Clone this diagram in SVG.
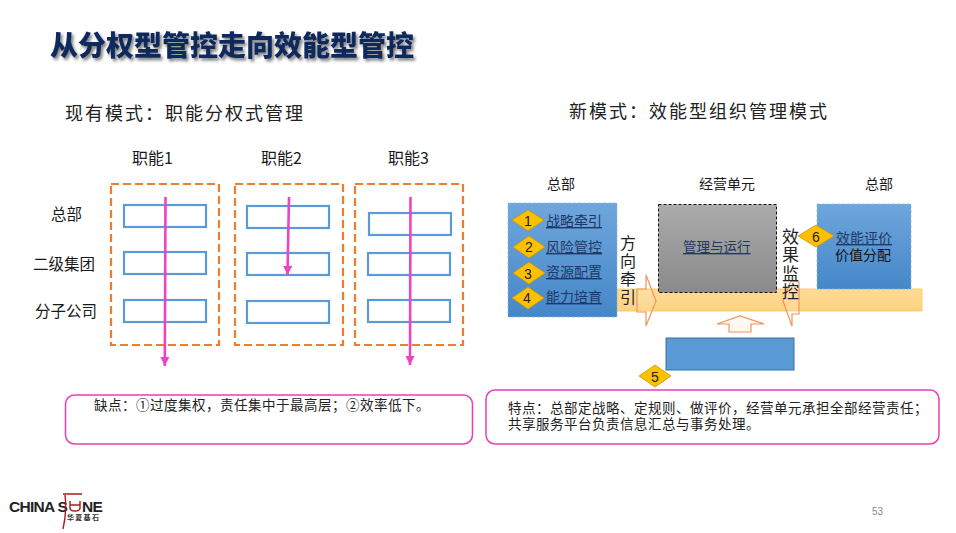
<svg xmlns="http://www.w3.org/2000/svg" width="956" height="533" viewBox="0 0 956 533">
<style>
text{font-family:"Noto Sans CJK SC","Liberation Sans",sans-serif;fill:#1a1a1a}
.head{font-size:18px;letter-spacing:2px;fill:#222}
.fn{font-size:16px}
.lv{font-size:15.500px}
.sm{font-size:14px}
.link{font-size:14px;fill:#1f3864;text-decoration:underline}
.vert{writing-mode:vertical-rl;fill:#222}
.num{font-size:14px;text-anchor:middle;fill:#222;font-family:"Liberation Sans",sans-serif}
.note{font-size:13.500px;letter-spacing:.5px;fill:#222}
.frame{fill:none;stroke:#ed7d31;stroke-width:2.2;stroke-dasharray:8 4}
.cell{fill:#fff;stroke:#5b9bd5;stroke-width:2.2}
.pk{fill:none;stroke:#ee44c4;stroke-width:2.6}
.dia{fill:#ffc000;stroke:#c89800;stroke-width:.8}
.call{fill:#fff;stroke:#e83fb5;stroke-width:1.5}
.hollow{fill:#fff6ec;fill-opacity:.15;stroke:#f4945a;stroke-width:1.2}
.ln{font-family:"Liberation Sans",sans-serif;font-size:15.500px;font-weight:700;fill:#222;letter-spacing:-.7px}
</style>
<defs>
<linearGradient id="bl" x1="0" y1="0" x2="0" y2="1"><stop offset="0" stop-color="#6fa6dc"/><stop offset="1" stop-color="#4587c9"/></linearGradient>
<linearGradient id="gr" x1="0" y1="0" x2="0" y2="1"><stop offset="0" stop-color="#ababab"/><stop offset="1" stop-color="#8a8a8a"/></linearGradient>
<linearGradient id="ye" x1="0" y1="0" x2="0" y2="1"><stop offset="0" stop-color="#ffdb9a"/><stop offset="1" stop-color="#ffd27f"/></linearGradient>
<marker id="ah" markerUnits="userSpaceOnUse" markerWidth="10" markerHeight="10" refX="9" refY="4.5" orient="auto"><path d="M0 0L9 4.5L0 9Z" fill="#ee44c4"/></marker>
<filter id="sh" x="-5%" y="-30%" width="110%" height="170%"><feDropShadow dx="2" dy="2.5" stdDeviation="1.6" flood-color="#555" flood-opacity=".75"/></filter>
</defs>

<g id="title"><text x="50" y="56" font-size="28" font-weight="900" style="fill:#10295f" filter="url(#sh)">从分权型管控走向效能型管控</text></g>

<g id="left-head">
<text class="head" x="65" y="120">现有模式：职能分权式管理</text>
<text class="fn" x="132" y="164">职能1</text>
<text class="fn" x="261" y="164">职能2</text>
<text class="fn" x="388" y="164">职能3</text>
<text class="lv" x="51" y="220">总部</text>
<text class="lv" x="33" y="270">二级集团</text>
<text class="lv" x="35" y="317">分子公司</text>
</g>

<g id="col1"><rect class="frame" x="111" y="184" width="108" height="161"/><rect class="cell" x="124" y="205" width="82" height="22"/><rect class="cell" x="124" y="252" width="82" height="22"/><rect class="cell" x="124" y="300" width="82" height="22"/></g>
<g id="col2"><rect class="frame" x="235" y="184" width="108" height="161"/><rect class="cell" x="247" y="206" width="82" height="22"/><rect class="cell" x="247" y="253" width="82" height="22"/><rect class="cell" x="247" y="301" width="82" height="22"/></g>
<g id="col3"><rect class="frame" x="355" y="184" width="108" height="161"/><rect class="cell" x="369" y="213" width="82" height="22"/><rect class="cell" x="368" y="253" width="82" height="22"/><rect class="cell" x="368" y="300" width="82" height="22"/></g>

<g id="connectors">
<path class="pk" d="M165.500 197L164.800 366" marker-end="url(#ah)"/>
<path class="pk" d="M289 197L287.500 275" marker-end="url(#ah)"/>
<path class="pk" d="M410.500 197L410 365" marker-end="url(#ah)"/>
</g>

<g id="right-head">
<text class="head" x="569" y="118">新模式：效能型组织管理模式</text>
<text class="sm" x="547" y="189">总部</text>
<text class="sm" x="699" y="189">经营单元</text>
<text class="sm" x="865" y="189">总部</text>
</g>

<g id="band"><rect x="617" y="289" width="305" height="22" fill="url(#ye)" stroke="#ffc64d" stroke-width=".8"/></g>

<g id="hq-left"><rect x="508" y="203" width="109" height="114" fill="url(#bl)" stroke="#8db8e2" stroke-dasharray="3 2" stroke-width=".7"/>
<path class="dia" d="M512 220L528 210L544 220L528 231Z"/><text class="num" x="528" y="226">1</text>
<text class="link" x="546" y="226">战略牵引</text>
<path class="dia" d="M513 247L529 236L545 247L529 258Z"/><text class="num" x="529" y="252">2</text>
<text class="link" x="546" y="252">风险管控</text>
<path class="dia" d="M513 273L529 262L545 273L529 284Z"/><text class="num" x="528" y="279">3</text>
<text class="link" x="546" y="277">资源配置</text>
<path class="dia" d="M512 298L528 287L544 298L528 309Z"/><text class="num" x="527" y="303">4</text>
<text class="link" x="546" y="302">能力培育</text>
</g>

<g id="dir-arrow"><path class="hollow" d="M637 289H646V275L656 301L646 326V312H637Z"/>
<text class="vert" x="628" y="235" font-size="16" letter-spacing="2">方向牵引</text></g>

<g id="ops"><rect x="658.500" y="204.500" width="118" height="88" fill="url(#gr)" stroke="#111" stroke-dasharray="3 2" stroke-width="1"/>
<text class="link" x="683" y="252" style="font-size:13.500px">管理与运行</text></g>

<g id="hq-right"><rect x="817" y="204" width="94" height="85" fill="url(#bl)" stroke="#8db8e2" stroke-dasharray="3 2" stroke-width=".7"/>
<path class="dia" d="M798 236L816 225L834 236L816 247Z"/><text class="num" x="816" y="242">6</text>
<text font-size="14" style="fill:#111"><tspan class="link" x="836" y="243">效能评价</tspan><tspan x="835" y="260">价值分配</tspan></text></g>

<g id="mon-arrow"><path class="hollow" d="M791 281L783 301L792 326V314H799V282Z"/>
<text class="vert" x="790.500" y="228" font-size="17" letter-spacing="1.500">效果监控</text></g>

<g id="up-arrow"><path class="hollow" style="fill-opacity:.8" d="M717 324L740 316L764 324H751V332H729V324Z"/></g>

<g id="shared"><rect x="666" y="338" width="128" height="32" fill="#5b9bd5" stroke="#41719c"/></g>
<g id="d5"><path class="dia" d="M639 376L655 365L671 376L655 387Z"/><text class="num" x="655" y="382">5</text></g>

<g id="note-left"><rect class="call" x="65.500" y="395" width="407" height="49" rx="9"/><text class="note" x="94" y="410">缺点：①过度集权，责任集中于最高层；②效率低下。</text></g>
<g id="note-right"><rect class="call" x="486" y="390" width="453" height="54" rx="9"/><text class="note"><tspan x="508" y="413">特点：总部定战略、定规则、做评价，经营单元承担全部经营责任；</tspan><tspan x="508" y="429">共享服务平台负责信息汇总与事务处理。</tspan></text></g>

<g id="logo">
<text class="ln" x="9" y="512">CHINA S</text>
<path d="M63 494H82M65 495Q67 512 63 529M70 501V508Q70 511 75 511Q80 511 80 508V501M70 505H80" fill="none" stroke="#a3201f" stroke-width="1.400"/>
<text class="ln"><tspan x="82" y="512">NE</tspan><tspan x="67" y="520" style="font-family:'Noto Sans CJK SC',sans-serif;font-size:7px;letter-spacing:1.300px;fill:#333">华夏基石</tspan></text>
</g>
<g id="page"><text x="872" y="515" font-size="10" style="font-family:'Liberation Sans',sans-serif;fill:#8c8c8c">53</text></g>
</svg>
